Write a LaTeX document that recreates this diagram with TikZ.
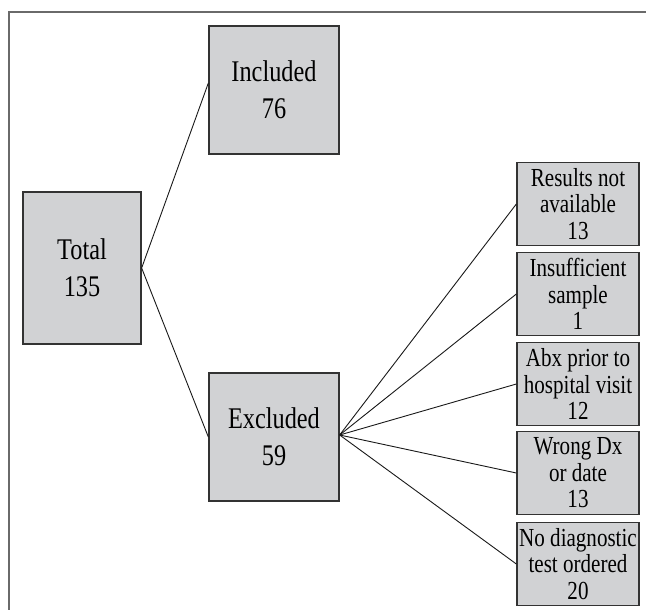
\documentclass[tikz,border=0pt]{standalone}
\usepackage{fontspec}
\setmainfont{Liberation Serif}[FakeStretch=0.81]
\usetikzlibrary{positioning}
\definecolor{boxgray}{HTML}{D1D2D4}
\definecolor{boxline}{HTML}{333333}
\definecolor{framegray}{HTML}{6A6A6A}
\tikzset{
  bigbox/.style={rectangle,draw=boxline,fill=boxgray,line width=1.3pt,
    align=center,inner sep=0pt,font=\fontsize{30}{37}\selectfont},
  smallbox/.style={rectangle,draw=boxline,fill=boxgray,line width=1.3pt,
    align=center,inner sep=0pt,minimum width=122pt,minimum height=83pt,
    font=\fontsize{26}{26.5}\selectfont},
  link/.style={draw=black!90,line width=0.9pt}
}
\begin{document}
\begin{tikzpicture}[x=1pt,y=-1pt]
\useasboundingbox (0,0) rectangle (646,610);
\draw[framegray,line width=1.3pt] (9,12) rectangle (660,625);
\node[bigbox,minimum width=118pt,minimum height=152pt] (total) at (82,268) {Total\\135};
\node[bigbox,minimum width=130pt,minimum height=128pt] (incl) at (274,90) {Included\\76};
\node[bigbox,minimum width=130pt,minimum height=128pt] (excl) at (274,437) {Excluded\\59};
\node[smallbox] (res) at (578,204) {Results not\\available\\13};
\node[smallbox] (insuf) at (578,294) {Insufficient\\sample\\1};
\node[smallbox] (abx) at (578,384) {Abx prior to\\hospital visit\\12};
\node[smallbox] (wrong) at (578,473) {Wrong Dx\\or date\\13};
\node[smallbox] (notest) at (578,564) {No diagnostic\\test ordered\\20};
\draw[link] ([yshift=7pt]incl.west) -- (total.east) -- (excl.west);
\foreach \n in {res,insuf,abx,wrong,notest}
  \draw[link] ([yshift=2pt]excl.east) -- (\n.west);
\end{tikzpicture}
\end{document}
